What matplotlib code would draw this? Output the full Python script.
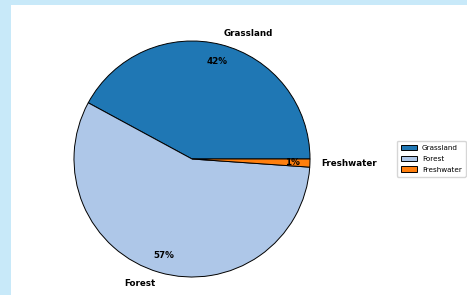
import matplotlib
matplotlib.use('Agg')
import matplotlib.pyplot as plt
from matplotlib.patches import Rectangle

labels = ['Grassland', 'Forest', 'Freshwater']
sizes = [42.1, 56.8, 1.1]
colors = ['#1f77b4', '#aec7e8', '#ff7f0e']

fig = plt.figure(figsize=(4.67, 2.95), dpi=100, facecolor='#c8e9f9')
# white panel, the light blue border shows on top and left only
fig.patches.append(Rectangle((11 / 467, 0), 1, 1 - 5 / 295, transform=fig.transFigure,
                             facecolor='white', edgecolor='none', zorder=-10))

ax = fig.add_axes([44.5 / 467, -11.5 / 295, 295 / 467, 1.0])
wedges, texts, autotexts = ax.pie(
    sizes, labels=labels, colors=colors, autopct='%1.0f%%',
    startangle=0, pctdistance=0.85, labeldistance=1.1,
    wedgeprops={'edgecolor': 'black', 'linewidth': 0.7},
    textprops={'fontsize': 6.3, 'fontweight': 'bold'})
ax.set_aspect('equal')

ax.legend(wedges, labels, loc='upper left', bbox_to_anchor=(397 / 467, 1 - 141 / 295),
          bbox_transform=fig.transFigure, borderaxespad=0, fontsize=5.2,
          handlelength=2.2, handletextpad=0.7, borderpad=0.55, labelspacing=0.65)

fig.savefig('out.png', dpi=100, facecolor=fig.get_facecolor())
